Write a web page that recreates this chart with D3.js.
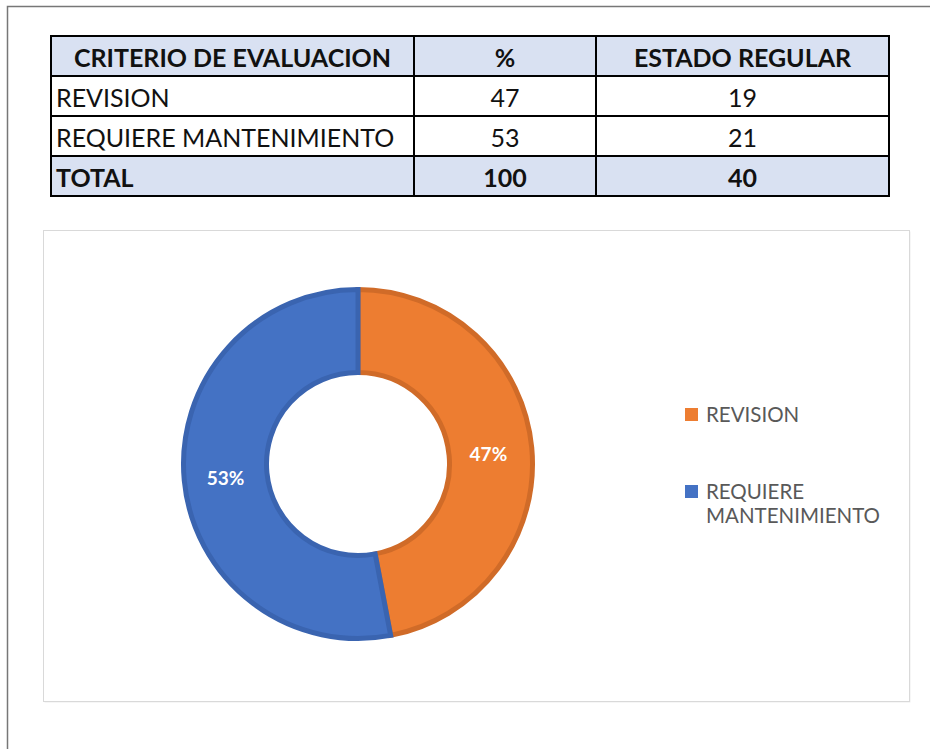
<!DOCTYPE html>
<html><head><meta charset="utf-8">
<script src="https://cdn.jsdelivr.net/npm/d3@7"></script>
<style>body{margin:0;background:#fff;} svg{display:block;}</style>
</head><body>
<svg id="c" width="930" height="749"></svg>
<script>
const headers = ["CRITERIO DE EVALUACION", "%", "ESTADO REGULAR"];
const categories = ["REVISION", "REQUIERE MANTENIMIENTO"];
const percents = [47, 53];
const counts = [19, 21];
const totalLabel = "TOTAL";
const totals = [100, 40];
const colors = ["#ED7D31", "#4472C4"];
const strokes = ["#D06B28", "#3A64B0"];

const svg = d3.select("#c");
const font = "Lato, 'Open Sans', sans-serif";

// outer frame
svg.append("path").attr("d","M7.5,749 V6.5 H930").attr("fill","none").attr("stroke","#777").attr("stroke-width",1.5);

// table
const colX = [51, 414, 596, 889];
const rowY = [36, 76, 116, 156, 196];
const rows = [
  {cells: headers, bold: true, bg: "#D9E1F2", align: ["middle","middle","middle"]},
  {cells: [categories[0], percents[0], counts[0]], bold:false, bg:"#fff", align:["start","middle","middle"]},
  {cells: [categories[1], percents[1], counts[1]], bold:false, bg:"#fff", align:["start","middle","middle"]},
  {cells: [totalLabel, totals[0], totals[1]], bold:true, bg:"#D9E1F2", align:["start","middle","middle"]}
];
const tg = svg.append("g");
rows.forEach((r,i)=>{
  tg.append("rect").attr("x",colX[0]).attr("y",rowY[i]).attr("width",colX[3]-colX[0]).attr("height",rowY[i+1]-rowY[i]).attr("fill",r.bg);
  r.cells.forEach((c,j)=>{
    const a = r.align[j];
    const x = a==="start" ? colX[j]+5 : (colX[j]+colX[j+1])/2;
    tg.append("text").attr("x",x).attr("y",rowY[i]+31).attr("text-anchor",a)
      .attr("font-family",font).attr("font-size",25).attr("font-weight",r.bold?"bold":"normal")
      .attr("fill","#111").text(c);
  });
});
rowY.forEach(y=>tg.append("line").attr("x1",colX[0]-1).attr("x2",colX[3]+1).attr("y1",y).attr("y2",y).attr("stroke","#000").attr("stroke-width",2));
colX.forEach(x=>tg.append("line").attr("x1",x).attr("x2",x).attr("y1",rowY[0]).attr("y2",rowY[4]).attr("stroke","#000").attr("stroke-width",2));

// chart area
svg.append("rect").attr("x",44.5).attr("y",231.5).attr("width",866).attr("height",471).attr("fill","#EDEDED");
svg.append("rect").attr("x",43.5).attr("y",230.5).attr("width",866).attr("height",471).attr("fill","#fff").attr("stroke","#D9D9D9").attr("stroke-width",1);

const cx = 358, cy = 464, R = 177, r0 = 89;
const pie = d3.pie().sort(null).value(d=>d)(percents);
const arc = d3.arc().innerRadius(r0+2.5).outerRadius(R-2.5);
const labelArc = d3.arc().innerRadius((R+r0)/2).outerRadius((R+r0)/2);
const g = svg.append("g").attr("transform",`translate(${cx},${cy})`);
g.selectAll("path").data(pie).join("path").attr("d",arc)
  .attr("fill",(d,i)=>colors[i]).attr("stroke",(d,i)=>strokes[i]).attr("stroke-width",5).attr("stroke-linejoin","miter");
g.selectAll("text").data(pie).join("text")
  .attr("transform",d=>{const [x,y]=labelArc.centroid(d); return `translate(${x+ (d.index===0?-2:0)},${y+(d.index===0?3:2)})`;})
  .attr("text-anchor","middle").attr("dy","0.35em")
  .attr("font-family",font).attr("font-size",19).attr("font-weight","bold").attr("fill","#fff")
  .text(d=>d.data+"%");

// legend
const lg = svg.append("g");
const legY = [408, 485];
categories.forEach((c,i)=>{
  lg.append("rect").attr("x",685).attr("y",legY[i]).attr("width",13).attr("height",13).attr("fill",colors[i]);
  const words = i===0 ? [c] : ["REQUIERE","MANTENIMIENTO"];
  words.forEach((w,k)=>{
    lg.append("text").attr("x",706).attr("y",legY[i]+14+k*24).attr("font-family",font).attr("font-size",20.5).attr("fill","#595959").text(w);
  });
});
</script>
</body></html>
